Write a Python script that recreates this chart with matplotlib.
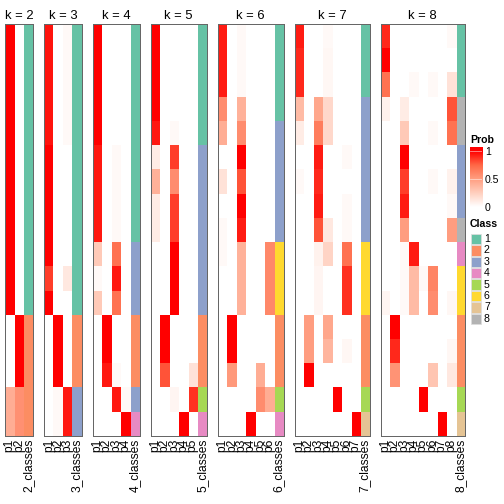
import numpy as np
import matplotlib
matplotlib.use("Agg")
import matplotlib.pyplot as plt
from matplotlib.colors import LinearSegmentedColormap, to_rgba
from matplotlib.patches import Rectangle

plt.rcParams["font.family"] = ["Liberation Sans", "DejaVu Sans"]

# membership probabilities, 17 samples (rows) per k
prob_k2 = [[1, 0]] * 12 + [[0, 1]] * 3 + [[0.42, 0.56]] * 2
class_k2 = [1] * 12 + [2] * 5

prob_k3 = [[0.95, 0, 0.03]] * 5 + [[1, 0, 0]] * 5 + [[0.85, 0, 0.12], [1, 0, 0]] \
    + [[0, 1, 0]] * 3 + [[0, 0.03, 0.94]] * 2
class_k3 = [1] * 12 + [2] * 3 + [3] * 2

prob_k4 = [[1, 0, 0, 0]] * 5 + [[0.94, 0, 0.03, 0]] * 4 + [
    [0.27, 0, 0.7, 0],
    [0.03, 0, 0.94, 0],
    [0.27, 0, 0.7, 0],
    [0, 1, 0, 0],
    [0, 1, 0, 0],
    [0, 0.94, 0.03, 0],
    [0, 0, 0.94, 0.03],
    [0, 0, 0, 1],
]
class_k4 = [1] * 9 + [3] * 3 + [2] * 3 + [3, 4]

prob_k5 = [[1, 0, 0, 0, 0]] * 4 + [
    [0.94, 0, 0.03, 0, 0],
    [0.1, 0, 0.85, 0, 0],
    [0.4, 0, 0.58, 0, 0],
    [0.1, 0, 0.85, 0, 0],
    [0.1, 0, 0.85, 0, 0],
    [0, 0, 1, 0, 0],
    [0, 0, 1, 0, 0],
    [0, 0, 1, 0, 0],
    [0, 1, 0, 0, 0],
    [0, 1, 0, 0, 0],
    [0, 0.8, 0, 0, 0.15],
    [0, 0, 0.05, 0, 0.88],
    [0, 0, 0, 1, 0],
]
class_k5 = [1] * 5 + [3] * 7 + [2] * 3 + [5, 4]

prob_k6 = [[0.93, 0, 0.03, 0, 0, 0]] * 3 + [
    [0.58, 0, 0.4, 0, 0, 0],
    [0.42, 0, 0.58, 0, 0, 0],
    [0, 0, 1, 0, 0, 0],
    [0.15, 0, 0.8, 0, 0, 0],
    [0, 0, 1, 0, 0, 0],
    [0.03, 0, 0.93, 0, 0, 0],
    [0.03, 0, 0.4, 0, 0, 0.6],
    [0, 0, 0.4, 0, 0, 0.6],
    [0, 0, 0.4, 0, 0, 0.6],
    [0, 1, 0, 0, 0, 0],
    [0, 1, 0, 0, 0, 0],
    [0, 0.52, 0, 0, 0.42, 0],
    [0, 0, 0, 0, 0.58, 0.42],
    [0, 0, 0, 1, 0, 0],
]
class_k6 = [1] * 4 + [3] * 5 + [6] * 3 + [2] * 3 + [5, 4]

prob_k7 = [
    [0.93, 0, 0, 0.03, 0, 0, 0],
    [0.9, 0, 0, 0.04, 0, 0, 0],
    [0.9, 0, 0, 0.04, 0, 0, 0],
    [0.35, 0, 0.45, 0.2, 0, 0, 0],
    [0.1, 0, 0.65, 0.2, 0, 0, 0],
    [0, 0, 0.93, 0, 0, 0.03, 0],
    [0.03, 0, 0.9, 0, 0, 0, 0],
    [0, 0, 0.93, 0, 0, 0.03, 0],
    [0, 0, 0.8, 0.12, 0, 0.03, 0],
    [0, 0, 0.07, 0.22, 0, 0.7, 0],
    [0, 0, 0.05, 0, 0, 0.88, 0],
    [0, 0, 0.05, 0, 0, 0.88, 0],
    [0, 0.5, 0, 0.45, 0, 0, 0],
    [0, 0.5, 0, 0.38, 0, 0.04, 0],
    [0, 1, 0, 0, 0, 0, 0],
    [0, 0, 0, 0, 1, 0, 0],
    [0, 0, 0, 0, 0, 0, 1],
]
class_k7 = [1] * 3 + [3] * 6 + [6] * 3 + [2] * 3 + [5, 7]

prob_k8 = [
    [0.9, 0, 0, 0, 0, 0, 0, 0.03],
    [1, 0, 0, 0, 0, 0, 0, 0],
    [0.7, 0, 0, 0.03, 0, 0.03, 0, 0.15],
    [0.07, 0, 0.1, 0, 0, 0, 0, 0.8],
    [0, 0, 0.28, 0, 0, 0.03, 0, 0.7],
    [0, 0, 1, 0, 0, 0, 0, 0],
    [0, 0, 0.85, 0, 0, 0.03, 0, 0.07],
    [0, 0, 0.93, 0, 0, 0, 0, 0.03],
    [0, 0, 0.5, 0, 0, 0, 0, 0.5],
    [0, 0, 0.03, 0.93, 0, 0, 0, 0],
    [0, 0, 0.03, 0.35, 0.03, 0.62, 0, 0],
    [0.05, 0, 0.03, 0.35, 0, 0.58, 0, 0.04],
    [0, 1, 0, 0, 0, 0, 0, 0],
    [0, 0.9, 0, 0, 0, 0, 0, 0.04],
    [0, 0.55, 0, 0, 0, 0.3, 0, 0.12],
    [0, 0, 0, 0, 1, 0, 0, 0],
    [0, 0, 0, 0, 0, 0, 1, 0],
]
class_k8 = [1] * 3 + [8] * 2 + [3] * 3 + [8, 4] + [6] * 2 + [2] * 3 + [5, 7]

ks = [2, 3, 4, 5, 6, 7, 8]
probs = [prob_k2, prob_k3, prob_k4, prob_k5, prob_k6, prob_k7, prob_k8]
classes = [class_k2, class_k3, class_k4, class_k5, class_k6, class_k7, class_k8]

class_colors = ["#66C2A5", "#FC8D62", "#8DA0CB", "#E78AC3",
                "#A6D854", "#FFD92F", "#E5C494", "#B3B3B3"]
prob_cmap = LinearSegmentedColormap.from_list(
    "prob", ["#FFFFFF", "#FFCFBE", "#FF9E81", "#FF6846", "#FF0000"])

W = 504.0
fig = plt.figure(figsize=(7, 7), dpi=72)

col_w = 9.38
gap = 11
top_px, bot_px = 24, 436
x = 5.0
for k, p, c in zip(ks, probs, classes):
    p = np.array(p, dtype=float)
    ncol = k + 1
    img = np.zeros((len(c), ncol, 4))
    img[:, :k, :] = prob_cmap(np.clip(p, 0, 1))
    img[:, k, :] = [to_rgba(class_colors[ci - 1]) for ci in c]
    ax = fig.add_axes([x / W, 1 - bot_px / W, ncol * col_w / W, (bot_px - top_px) / W])
    ax.imshow(img, aspect="auto", interpolation="nearest")
    ax.set_yticks([])
    ax.set_xticks(range(ncol))
    ax.set_xticklabels([f"p{i + 1}" for i in range(k)] + [f"{k}_classes"],
                       rotation=90, fontsize=12)
    ax.tick_params(axis="x", length=0, pad=3)
    for s in ax.spines.values():
        s.set_color("#666666")
        s.set_linewidth(1.0)
    ax.set_title(f"k = {k}", fontsize=13, pad=5)
    x += ncol * col_w + gap

# Prob legend
fig.text(470 / W, 1 - 140 / W, "Prob", fontsize=10.5, fontweight="bold", va="center")
cax = fig.add_axes([469.5 / W, 1 - 207 / W, 12.5 / W, 60 / W])
grad = np.linspace(0, 1.07, 200)[:, None]
cax.imshow(np.clip(grad, 0, 1), cmap=prob_cmap, vmin=0, vmax=1, aspect="auto",
           origin="lower", extent=(0, 1, 0, 1.07))
for t in [0.5, 1.0]:
    cax.axhline(t, color="white", lw=0.8, alpha=0.6)
cax.set_xlim(0, 1)
cax.set_ylim(0, 1.07)
cax.set_xticks([])
cax.yaxis.tick_right()
cax.set_yticks([0, 0.5, 1])
cax.set_yticklabels(["0", "0.5", "1"], fontsize=10.5)
cax.tick_params(axis="y", length=0, pad=3)
for s in cax.spines.values():
    s.set_visible(False)

# Class legend
fig.text(470 / W, 1 - 224 / W, "Class", fontsize=10.5, fontweight="bold", va="center")
for i, col in enumerate(class_colors):
    yc = 239 + i * 11.4
    fig.patches.append(Rectangle((470.5 / W, 1 - (yc + 5.2) / W), 10.5 / W, 10.4 / W,
                                 transform=fig.transFigure, facecolor=col,
                                 edgecolor="#DDDDDD", lw=0.8))
    fig.text(484 / W, 1 - yc / W, str(i + 1), fontsize=10.5, va="center")

fig.savefig("out.png", dpi=72)
